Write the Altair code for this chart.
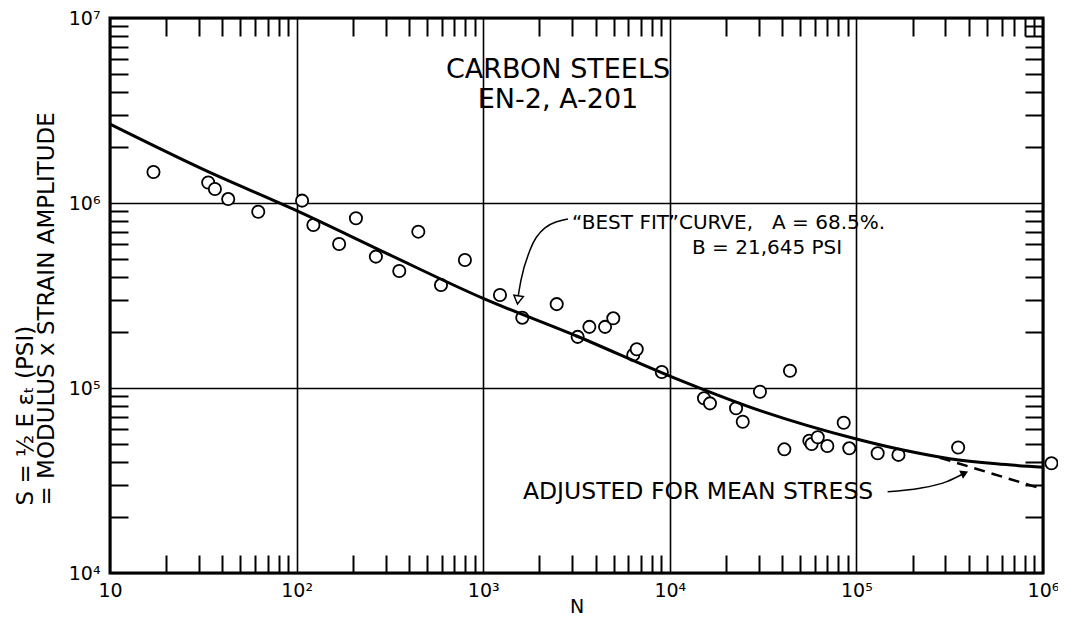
import json
import altair as alt
import pandas as pd

# ---------------- data ----------------
cycles = [17.1, 33.6, 36.5, 43.0, 62.3, 107, 123, 169, 208, 266,
          355, 449, 594, 798, 1230, 1620, 2477, 3208, 3706, 4498,
          4979, 6370, 6650, 9060, 15250, 16420, 22650, 24600, 30420, 41100,
          44060, 55950, 57560, 62070, 69870, 85500, 91600, 130000, 168000, 351000,
          1110000]
stress = [1.47e6, 1.29e6, 1.19e6, 1.05e6, 8.97e5, 1.03e6, 7.6e5, 6.0e5, 8.27e5, 5.13e5,
          4.29e5, 7.0e5, 3.6e5, 4.92e5, 3.18e5, 2.4e5, 2.84e5, 1.89e5, 2.14e5, 2.14e5,
          2.38e5, 1.51e5, 1.62e5, 1.22e5, 8.8e4, 8.26e4, 7.77e4, 6.57e4, 9.55e4, 4.66e4,
          1.24e5, 5.19e4, 4.98e4, 5.42e4, 4.86e4, 6.49e4, 4.72e4, 4.44e4, 4.35e4, 4.77e4,
          3.92e4]

fit_cycles = [10, 31.6, 100, 316, 1000, 3162, 10000, 31623, 100000, 177828, 316228, 562341, 1000000]
fit_stress = [2.67e6, 1.52e6, 9.09e5, 5.24e5, 3.05e5, 1.91e5, 1.16e5, 7.45e4, 5.3e4, 4.62e4, 4.15e4, 3.89e4, 3.73e4]

adj_cycles = [2.8e5, 1.0e6]
adj_stress = [4.2e4, 2.84e4]

x_major = [10, 100, 1000, 10000, 100000, 1000000]
x_major_labels = ["10", "10²", "10³", "10⁴", "10⁵", "10⁶"]
y_major = [1e4, 1e5, 1e6, 1e7]
y_major_labels = ["10⁴", "10⁵", "10⁶", "10⁷"]
minor_mult = [2, 3, 4, 5, 6, 7, 8, 9]

NB = "\u00a0"
x_title = "N"
y_title_lines = ["S = ½ E εₜ (PSI)", NB * 3 + "= MODULUS x STRAIN AMPLITUDE"]

title_lines = ["CARBON STEELS", "EN-2, A-201"]
title_n = [2518, 2518]
title_s = [5.24e6, 3.6e6]

fit_note_lines = ["“BEST FIT”CURVE," + NB * 3 + "A = 68.5%.", "B = 21,645 PSI"]
fit_note_n = [2992, 13150]
fit_note_s = [7.8e5, 5.72e5]

adj_note = ["ADJUSTED FOR MEAN STRESS"]
adj_note_n = [1633]
adj_note_s = [2.74e4]

fit_arrow_n = [2844, 2143, 1782, 1595, 1537]
fit_arrow_s = [8.2e5, 7.33e5, 5.57e5, 3.84e5, 3.1e5]
fit_head_n = [1537]
fit_head_s = [2.99e5]

adj_arrow_n = [1.47e5, 2.19e5, 3.05e5, 3.72e5]
adj_arrow_s = [2.75e4, 2.87e4, 3.12e4, 3.43e4]
adj_head_n = [3.8e5]
adj_head_s = [3.47e4]

# ---------------- derived tables ----------------
x_minor = [m * d for d in x_major[:-1] for m in minor_mult]
y_minor = [m * d for d in y_major[:-1] for m in minor_mult]

pts = pd.DataFrame({"N": cycles, "S": stress})
fit = pd.DataFrame({"N": fit_cycles, "S": fit_stress})
adj = pd.DataFrame({"N": adj_cycles, "S": adj_stress})
ttl = pd.DataFrame({"N": title_n, "S": title_s, "t": title_lines})
fnote = pd.DataFrame({"N": fit_note_n, "S": fit_note_s, "t": fit_note_lines})
anote = pd.DataFrame({"N": adj_note_n, "S": adj_note_s, "t": adj_note})
farrow = pd.DataFrame({"N": fit_arrow_n, "S": fit_arrow_s})
fhead = pd.DataFrame({"N": fit_head_n, "S": fit_head_s})
aarrow = pd.DataFrame({"N": adj_arrow_n, "S": adj_arrow_s})
ahead = pd.DataFrame({"N": adj_head_n, "S": adj_head_s})

W, H = 933, 555
FONT = "DejaVu Sans"
xs = alt.Scale(type="log", domain=[10, 1e6], nice=False)
ys = alt.Scale(type="log", domain=[1e4, 1e7], nice=False)

x_expr = json.dumps(x_major_labels, ensure_ascii=False) + "[round(log(datum.value)/LN10) - 1]"
y_expr = json.dumps(y_major_labels, ensure_ascii=False) + "[round(log(datum.value)/LN10) - 4]"

main_x = alt.Axis(orient="bottom", values=x_major, grid=True, gridColor="black", gridWidth=1.6,
                  gridOpacity=1, ticks=False, domain=False, labelExpr=x_expr, labelFont=FONT,
                  labelFontSize=19, labelColor="black", labelPadding=8, labelFlush=False,
                  labelOverlap=False, title=x_title, titleFont=FONT, titleFontSize=19,
                  titleFontWeight="normal", titleColor="black", titlePadding=-3)
main_y = alt.Axis(orient="left", values=y_major, grid=True, gridColor="black", gridWidth=1.6,
                  gridOpacity=1, ticks=False, domain=False, labelExpr=y_expr, labelFont=FONT,
                  labelFontSize=19, labelColor="black", labelPadding=10, labelFlush=False,
                  labelOverlap=False, title=y_title_lines, titleFont=FONT, titleFontSize=23,
                  titleFontWeight="normal", titleColor="black", titleAngle=270,
                  titleAlign="left", titleBaseline="top", titleX=-96, titleY=487,
                  titleLineHeight=21)


def tick_axis(values, orient, offset):
    return alt.Axis(orient=orient, offset=offset, values=values, ticks=True, tickSize=18,
                    tickWidth=2, tickColor="black", labels=False, domain=False, grid=False,
                    title=None)


def enc_none():
    return dict(x=alt.X("N:Q", scale=xs, axis=None), y=alt.Y("S:Q", scale=ys, axis=None))


curve = alt.Chart(fit).mark_line(color="black", strokeWidth=3, interpolate="monotone").encode(
    x=alt.X("N:Q", scale=xs, axis=tick_axis(x_minor, "top", -H)),
    y=alt.Y("S:Q", scale=ys, axis=tick_axis(y_minor, "right", -W)),
)
dashed = alt.Chart(adj).mark_line(color="black", strokeWidth=2.5, strokeDash=[11, 7]).encode(
    x=alt.X("N:Q", scale=xs, axis=tick_axis(x_minor, "bottom", -H)),
    y=alt.Y("S:Q", scale=ys, axis=tick_axis(y_minor, "left", -W)),
)
points = alt.Chart(pts).mark_point(shape="circle", size=150, filled=False, fill="white",
                                   fillOpacity=1, stroke="black", strokeWidth=1.8,
                                   opacity=1).encode(
    x=alt.X("N:Q", scale=xs, axis=main_x),
    y=alt.Y("S:Q", scale=ys, axis=main_y),
)
title_txt = alt.Chart(ttl).mark_text(font=FONT, fontSize=27, align="center", baseline="middle",
                                     color="black").encode(text="t:N", **enc_none())
fit_txt = alt.Chart(fnote).mark_text(font=FONT, fontSize=20, align="left", baseline="middle",
                                     color="black").encode(text="t:N", **enc_none())
adj_txt = alt.Chart(anote).mark_text(font=FONT, fontSize=23.5, align="left", baseline="middle",
                                     color="black").encode(text="t:N", **enc_none())
fit_arr = alt.Chart(farrow).mark_line(color="black", strokeWidth=1.5,
                                      interpolate="monotone").encode(**enc_none())
fit_hd = alt.Chart(fhead).mark_point(shape="triangle-down", size=90, filled=True, fill="white",
                                     stroke="black", strokeWidth=1.5, opacity=1,
                                     angle=8).encode(**enc_none())
adj_arr = alt.Chart(aarrow).mark_line(color="black", strokeWidth=1.5,
                                      interpolate="monotone").encode(**enc_none())
adj_hd = alt.Chart(ahead).mark_point(shape="triangle-right", size=80, filled=True, color="black",
                                     opacity=1, angle=335).encode(**enc_none())

chart = alt.layer(
    points, curve, dashed, fit_arr, adj_arr, title_txt, fit_txt, adj_txt, fit_hd, adj_hd
).resolve_axis(x="independent", y="independent").properties(
    width=W, height=H,
    autosize=alt.AutoSizeParams(type="none"),
    padding={"left": 102, "top": 10, "right": 15, "bottom": 44},
    background="white",
).configure_view(stroke="black", strokeWidth=3)

chart.save("out.html", embed_options={"renderer": "svg", "actions": False})
